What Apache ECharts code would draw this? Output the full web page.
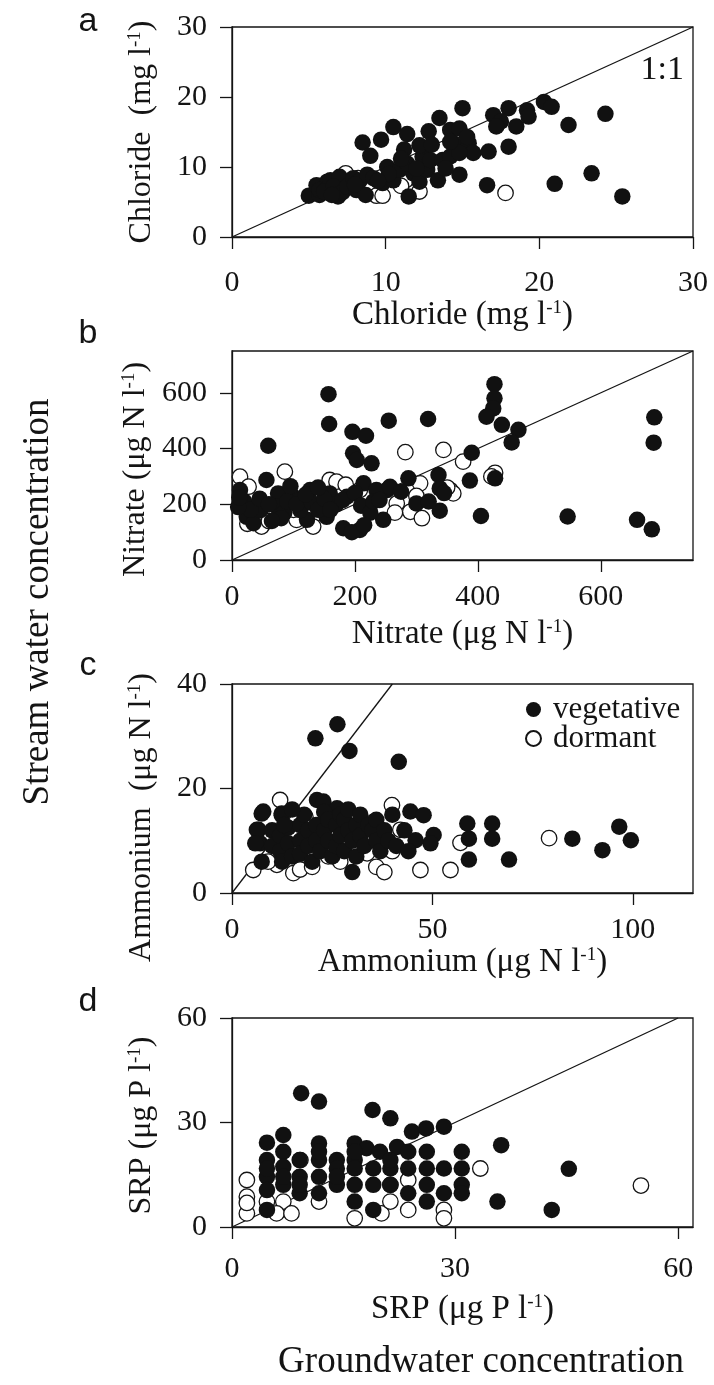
<!DOCTYPE html>
<html><head><meta charset="utf-8">
<script src="https://cdn.jsdelivr.net/npm/echarts@6/dist/echarts.min.js"></script>
<style>html,body{margin:0;padding:0;background:#fff}#chart{width:714px;height:1385px}</style>
</head><body><div id="chart"></div>
<script>
// ---------------- DATA ----------------
// Panel a: Chloride (mg l-1): [groundwater, stream]
const chlorideVeg = [[5.0,5.9],[5.7,6.0],[5.5,7.4],[6.2,7.9],[6.9,5.8],[5.7,6.7],[6.4,8.1],[7.0,8.6],[6.0,6.5],[6.6,7.2],[7.2,6.4],[7.5,7.2],[7.9,8.4],[8.1,6.7],[8.7,6.0],[8.3,8.0],[8.8,8.9],[9.2,8.4],[9.8,7.7],[10.1,10.0],[10.5,8.1],[10.9,9.6],[11.8,9.1],[11.4,10.5],[12.2,7.9],[12.4,11.5],[12.7,9.6],[12.9,11.0],[13.4,8.1],[13.7,11.0],[8.5,13.5],[9.0,11.6],[9.7,13.9],[10.5,15.7],[11.4,14.7],[12.2,13.1],[11.5,5.8],[12.8,15.1],[13.5,17.0],[14.2,15.3],[15.0,18.4],[14.8,15.5],[14.4,13.4],[15.4,13.4],[15.7,12.0],[16.7,12.2],[14.8,8.9],[16.6,7.4],[17.0,17.4],[18.0,18.4],[18.0,12.9],[17.5,16.5],[18.5,15.8],[19.2,18.1],[19.3,17.2],[20.3,19.3],[20.8,18.6],[21.9,16.0],[24.3,17.6],[21.0,7.6],[23.4,9.1],[25.4,5.8],[14.2,11.5],[14.8,12.0],[15.3,14.3],[14.2,13.6],[13.9,9.8],[11.2,12.5],[10.2,9.0],[9.5,8.0],[13.0,13.2],[17.2,15.8],[12.0,9.8],[11.0,11.2],[8.0,7.5],[6.5,6.0]];
const chlorideDorm = [[7.4,9.1],[9.4,5.9],[9.8,5.9],[12.2,6.5],[11.3,8.1],[17.8,6.3],[11.0,7.3],[8.2,8.4]];

// Panel b: Nitrate (ug N l-1)
const nitrateVeg = [[157,595],[158,488],[59,410],[255,500],[319,506],[196,460],[218,446],[197,383],[203,359],[227,347],[427,631],[427,580],[425,544],[414,514],[439,485],[466,467],[455,422],[390,385],[387,285],[428,293],[687,512],[686,421],[405,158],[546,156],[659,144],[683,110],[338,177],[300,203],[287,293],[336,305],[338,257],[252,251],[246,144],[208,108],[181,114],[122,144],[56,287],[13,251],[24,155],[35,132],[75,239],[100,227],[127,251],[159,239],[187,227],[214,275],[235,251],[154,155],[73,191],[111,179],[46,179],[257,263],[20,210],[30,180],[45,220],[60,200],[85,170],[90,210],[105,200],[130,205],[140,180],[170,200],[180,215],[200,240],[210,195],[225,170],[230,210],[150,220],[120,235],[80,150],[65,140],[10,190],[12,225],[195,100],[215,125],[160,180],[240,215],[275,245],[320,210],[345,240],[140,260],[95,265]];
const nitrateDorm = [[13,299],[86,317],[282,387],[344,395],[376,353],[428,313],[159,287],[170,281],[306,275],[355,251],[290,173],[309,150],[268,203],[48,120],[27,263],[105,144],[132,120],[208,251],[360,239],[422,300],[25,130],[60,140],[185,270],[300,230],[350,260],[265,170],[100,180]];

// Panel c: Ammonium (ug N l-1)
const ammoniumVeg = [[20.8,29.6],[26.3,32.3],[29.3,27.2],[41.6,25.1],[21.2,17.8],[22.8,17.5],[26.2,16.2],[7.8,15.6],[12.4,15.2],[6.6,12.1],[7.0,9.5],[44.5,15.6],[47.8,14.9],[58.7,13.3],[64.9,13.3],[59.1,10.4],[64.9,10.4],[59.1,6.4],[50.3,11.1],[49.5,9.5],[45.8,10.1],[69.1,6.4],[84.9,10.4],[92.4,8.2],[96.6,12.7],[99.5,10.1],[7.4,15.2],[6.2,12.1],[5.8,9.5],[7.4,6.0],[12.4,14.9],[10,12],[10,9],[12,11],[12,8],[12.5,6],[14,12.5],[14,9.5],[15,7],[17,13],[17,10],[17,7.5],[18,15],[19,12],[19,9],[20,6],[21,13],[21,10],[22,8],[23,15.5],[23,12],[24,14],[24,10],[25,7],[26,13],[26,9],[27,15],[27,11],[28,14],[28,8],[29,16],[29,12],[30,10],[30,4],[31,13],[31,7],[32,15],[32,11],[33,9],[34,13],[35,12],[36,10],[36,14],[37,8],[38,12],[39,10],[40,15],[41,9],[43,12],[44,8],[13,13],[15,16]];
const ammoniumDorm = [[12,17.8],[39.9,16.8],[79.1,10.5],[5.3,4.4],[11.2,5.4],[47,4.4],[54.5,4.4],[57,9.6],[35.3,13.6],[42,12.1],[18.3,14.6],[33.7,7.6],[15.3,3.8],[9,6],[17,4.5],[20,5],[24,7],[27,6],[36,5],[38,4],[40,8],[30,11]];

// Panel d: SRP (ug P l-1)
const srpVeg = [[9.3,38.4],[11.7,36.0],[18.9,33.6],[21.3,31.2],[24.2,27.4],[26.1,28.3],[28.5,28.8],[36.2,23.5],[45.3,16.7],[35.7,7.3],[43.0,4.9],[4.7,24.2],[4.7,19.2],[4.7,14.4],[4.7,10.6],[4.7,4.9],[6.9,26.4],[6.9,21.6],[6.9,17.3],[6.9,12.1],[9.1,14.4],[9.1,9.7],[11.7,24.0],[11.7,19.2],[11.7,14.4],[11.7,9.7],[14.1,19.2],[14.1,12.1],[16.5,24.0],[16.5,19.2],[16.5,12.1],[16.5,7.3],[18.1,22.6],[19.9,21.6],[22.2,23.0],[19.0,16.8],[21.3,16.8],[23.7,16.8],[23.7,21.6],[19.0,4.9],[26.2,21.6],[26.2,16.8],[26.2,12.1],[26.2,7.3],[28.5,16.8],[28.5,9.7],[30.9,21.6],[30.9,16.8],[30.9,12.1],[30.9,9.7],[4.7,16.8],[6.9,14.4],[9.1,19.2],[11.7,21.6],[14.1,16.8],[14.1,14.4],[16.5,21.6],[16.5,16.8],[19.0,12.1],[21.3,12.1],[23.7,9.7],[21.3,19.2],[9.1,12.1]];
const srpDorm = [[2.0,13.5],[2.0,8.7],[2.0,3.9],[2.0,6.9],[6.9,7.3],[6.0,3.9],[8.0,3.9],[9.2,19.2],[11.7,7.3],[16.5,2.5],[20.1,3.9],[21.3,7.3],[21.3,12.1],[23.7,13.5],[23.7,4.9],[28.5,4.9],[28.5,2.5],[33.4,16.8],[55.0,11.9],[4.7,7.3]];

// 1:1 reference lines
const oneToOneChloride = [[0,0],[30,30]];
const oneToOneNitrate = [[0,0],[750,750]];
const oneToOneAmmonium = [[0,0],[40,40]];
const oneToOneSRP = [[0,0],[60,60]];

// Axis ranges and tick labels
const rangeChlorideX = [0,30], rangeChlorideY = [0,30];
const rangeNitrateX = [0,750], rangeNitrateY = [0,750];
const rangeAmmoniumX = [0,115], rangeAmmoniumY = [0,40];
const rangeSRPX = [0,62], rangeSRPY = [0,60];
const ticksChlorideX = [0,10,20,30], ticksChlorideY = [0,10,20,30];
const ticksNitrateX = [0,200,400,600], ticksNitrateY = [0,200,400,600];
const ticksAmmoniumX = [0,50,100], ticksAmmoniumY = [0,20,40];
const ticksSRPX = [0,30,60], ticksSRPY = [0,30,60];

const seasons = ['vegetative','dormant'];
const panelLetters = ['a','b','c','d'];
const xNames = ['Chloride (mg l{s|-1})','Nitrate (μg N l{s|-1})','Ammonium (μg N l{s|-1})','SRP (μg P l{s|-1})'];
const yNames = ['Chloride  (mg l{s|-1})','Nitrate (μg N l{s|-1})','Ammonium  (μg N l{s|-1})','SRP (μg P l{s|-1})'];
const yTitle = 'Stream water concentration';
const xTitle = 'Groundwater concentration';
const ratioLabel = '1:1';

// ---------------- STYLE / LAYOUT ----------------
const SERIF = "'Liberation Serif','Times New Roman',serif";
const SANS = "'Liberation Sans',Arial,sans-serif";
const INK = '#141414';
const grids = [
  {left:232, top:27, width:461, height:210},
  {left:232, top:351, width:461, height:209},
  {left:232, top:684, width:461, height:209},
  {left:232, top:1018, width:461, height:209}
];
const xLabelMargin = [31, 22, 22, 27];
const xNameGap = [58, 58, 52, 66];
const yNameGap = [74, 74, 74, 74];
const yNamePad = [[0,0,0,0],[0,28,0,0],[0,58,0,0],[0,6,0,0]];
const letterY = [22, 334, 666, 1002];

const richSup = {s:{fontFamily:SERIF, fontSize:19, color:INK, verticalAlign:'top', lineHeight:18}};

const ranges = [[rangeChlorideX,rangeChlorideY],[rangeNitrateX,rangeNitrateY],[rangeAmmoniumX,rangeAmmoniumY],[rangeSRPX,rangeSRPY]];
const ticks = [[ticksChlorideX,ticksChlorideY],[ticksNitrateX,ticksNitrateY],[ticksAmmoniumX,ticksAmmoniumY],[ticksSRPX,ticksSRPY]];
const vegData = [chlorideVeg, nitrateVeg, ammoniumVeg, srpVeg];
const dormData = [chlorideDorm, nitrateDorm, ammoniumDorm, srpDorm];
const lines = [oneToOneChloride, oneToOneNitrate, oneToOneAmmonium, oneToOneSRP];

const xAxes = [], yAxes = [], series = [];
for (let i = 0; i < 4; i++) {
  const common = {
    type:'value', gridIndex:i, splitLine:{show:false},
    axisLine:{show:true, onZero:false, lineStyle:{color:INK, width:1.3}},
  };
  xAxes.push(Object.assign({}, common, {
    min:ranges[i][0][0], max:ranges[i][0][1],
    axisTick:{show:true, inside:false, length:12, customValues:ticks[i][0], lineStyle:{color:INK, width:1.3}},
    axisLabel:{customValues:ticks[i][0], margin:xLabelMargin[i], color:INK, fontFamily:SERIF, fontSize:30},
    name:xNames[i], nameLocation:'middle', nameGap:xNameGap[i],
    nameTextStyle:{fontFamily:SERIF, fontSize:33, color:INK, rich:richSup}
  }));
  yAxes.push(Object.assign({}, common, {
    min:ranges[i][1][0], max:ranges[i][1][1],
    axisTick:{show:true, inside:false, length:12, customValues:ticks[i][1], lineStyle:{color:INK, width:1.3}},
    axisLabel:{customValues:ticks[i][1], margin:25, color:INK, fontFamily:SERIF, fontSize:30},
    name:yNames[i], nameLocation:'middle', nameGap:yNameGap[i], nameRotate:90,
    nameTextStyle:{fontFamily:SERIF, fontSize:32, color:INK, rich:richSup, padding:yNamePad[i]}
  }));
  const lineSeries = {
    type:'line', xAxisIndex:i, yAxisIndex:i, data:lines[i], symbol:'none', silent:true, z:1,
    lineStyle:{color:INK, width:1.3}, animation:false
  };
  if (i === 0) {
    lineSeries.markPoint = {
      symbol:'circle', symbolSize:0, silent:true,
      data:[{coord:[28.0,23.9]}],
      label:{show:true, position:'inside', formatter:ratioLabel, fontFamily:SERIF, fontSize:34, color:INK}
    };
  }
  series.push(lineSeries);
  series.push({
    name:seasons[1], type:'scatter', xAxisIndex:i, yAxisIndex:i, data:dormData[i], z:2,
    symbol:'circle', symbolSize:15.5,
    itemStyle:{color:'#ffffff', borderColor:INK, borderWidth:1.3, opacity:1}, animation:false
  });
  series.push({
    name:seasons[0], type:'scatter', xAxisIndex:i, yAxisIndex:i, data:vegData[i], z:3,
    symbol:'circle', symbolSize:16.5,
    itemStyle:{color:'#111111', borderWidth:0, opacity:1}, animation:false
  });
}

const graphic = [];
for (let i = 0; i < 4; i++) {
  graphic.push({type:'text', x:88, y:letterY[i], style:{text:panelLetters[i], font:'34px ' + SANS, fill:INK, align:'center', verticalAlign:'middle'}});
}
graphic.push({type:'text', x:38, y:602, rotation:Math.PI/2, style:{text:yTitle, font:'37px ' + SERIF, fill:INK, align:'center', verticalAlign:'middle'}});
graphic.push({type:'text', x:481, y:1362, style:{text:xTitle, font:'37px ' + SERIF, fill:INK, align:'center', verticalAlign:'middle'}});

const chart = echarts.init(document.getElementById('chart'), null, {renderer:'canvas'});
chart.setOption({
  backgroundColor:'#ffffff',
  animation:false,
  grid: grids.map(g => Object.assign({show:true, borderColor:INK, borderWidth:1.3, backgroundColor:'transparent', containLabel:false}, g)),
  xAxis: xAxes,
  yAxis: yAxes,
  legend: {
    data:seasons, orient:'vertical', left:520, top:689, selectedMode:false,
    itemWidth:29, itemHeight:15, itemGap:-2,
    textStyle:{fontFamily:SERIF, fontSize:31, color:INK}
  },
  graphic: graphic,
  series: series
});
</script>
</body></html>
